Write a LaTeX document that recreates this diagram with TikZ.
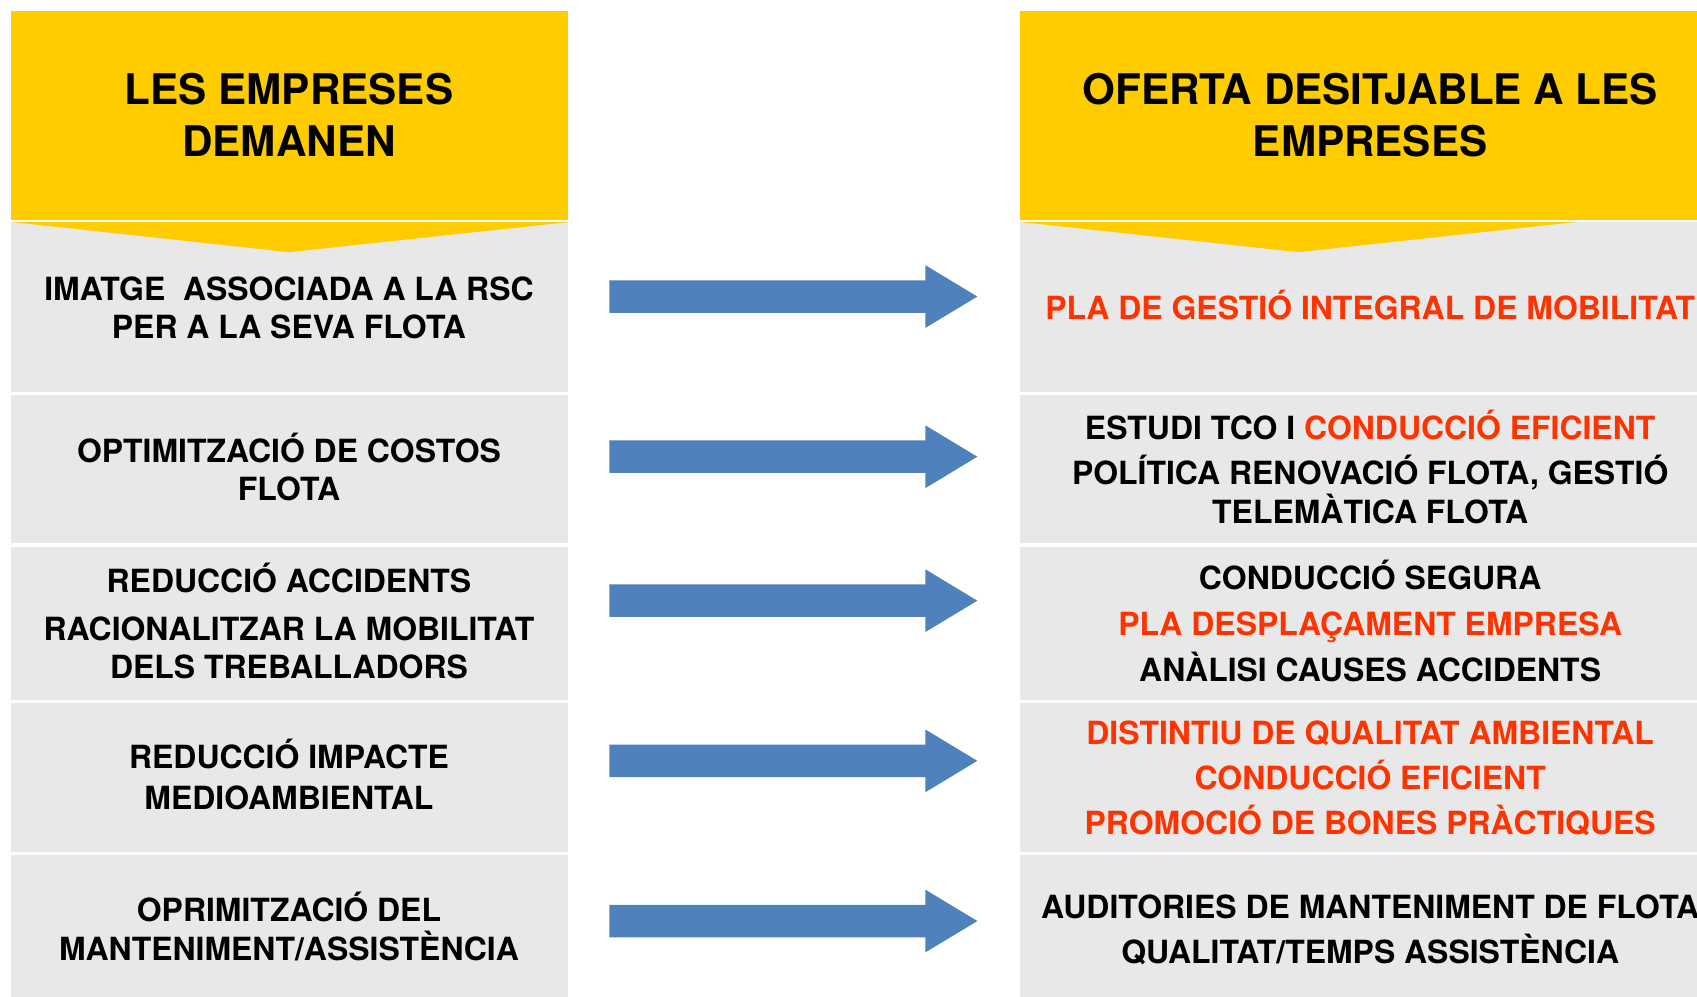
\documentclass[tikz,border=0pt]{standalone}
\usepackage{fontspec}
\setmainfont{TeX Gyre Heros}
\definecolor{hdr}{HTML}{FFCC00}
\definecolor{cellgray}{HTML}{E8E8E8}
\definecolor{redtx}{HTML}{FF3300}
\definecolor{arrowblue}{HTML}{4F81BD}
\begin{document}
\begin{tikzpicture}[x=0.02cm,y=-0.02cm,
  body/.style={font=\fontsize{16.8}{20}\selectfont\bfseries, anchor=base, inner sep=0pt},
  ttl/.style={font=\fontsize{22.2}{27}\selectfont\bfseries, anchor=base, inner sep=0pt},
  hot/.style={text=redtx},
  cellbox/.style={fill=cellgray},
  hdrbox/.style={fill=hdr},
  bigarrow/.style={fill=arrowblue}]
\useasboundingbox (0,0) rectangle (1568,921);
\fill[white] (0,0) rectangle (1568,921);

% gray cells
\foreach \ya/\yb in {205/362,365/502,505/647,650/787,790/921}{
  \path[cellbox] (10,\ya) rectangle (525,\yb);
  \path[cellbox] (942,\ya) rectangle (1568,\yb);
}
% headers
\path[hdrbox] (10,10) rectangle (525,203);
\path[hdrbox] (10,205) -- (527,205) -- (267,233) -- cycle;
\path[hdrbox] (942,10) rectangle (1568,203);
\path[hdrbox] (942,205) -- (1457,205) -- (1200,233) -- cycle;

% arrows
\foreach \c in {274,422,555,703,851}{
  \path[bigarrow] (563,\c-15) -- (855,\c-15) -- (855,\c-29) -- (903,\c)
     -- (855,\c+29) -- (855,\c+15) -- (563,\c+15) -- cycle;
}

% titles
\node[ttl] (tl1) at (267,97) {LES EMPRESES};
\node[ttl] (tl2) at (267,145) {DEMANEN};
\node[ttl] (tr1) at (1266,97) {OFERTA DESITJABLE A LES};
\node[ttl] (tr2) at (1266,145) {EMPRESES};

% left column
\node[body] (l1a) at (267,277.5) {IMATGE\ \ ASSOCIADA A LA RSC};
\node[body] (l1b) at (267,312.5) {PER A LA SEVA FLOTA};
\node[body] (l2a) at (267,427.5) {OPTIMITZACIÓ DE COSTOS};
\node[body] (l2b) at (267,462.5) {FLOTA};
\node[body] (l3a) at (267,547.5) {REDUCCIÓ ACCIDENTS};
\node[body] (l3b) at (267,591.5) {RACIONALITZAR LA MOBILITAT};
\node[body] (l3c) at (267,626.5) {DELS TREBALLADORS};
\node[body] (l4a) at (267,710.5) {REDUCCIÓ IMPACTE};
\node[body] (l4b) at (267,747.5) {MEDIOAMBIENTAL};
\node[body] (l5a) at (267,851.5) {OPRIMITZACIÓ DEL};
\node[body] (l5b) at (267,887.5) {MANTENIMENT/ASSISTÈNCIA};

% right column
\node[body,hot] (r1a) at (1266,295.5) {PLA DE GESTIÓ INTEGRAL DE MOBILITAT};
\node[body] (r2a) at (1266,406.5) {ESTUDI TCO I \textcolor{redtx}{CONDUCCIÓ EFICIENT}};
\node[body] (r2b) at (1266,447.5) {POLÍTICA RENOVACIÓ FLOTA, GESTIÓ};
\node[body] (r2c) at (1266,483.5) {TELEMÀTICA FLOTA};
\node[body] (r3a) at (1266,544.5) {CONDUCCIÓ SEGURA};
\node[body,hot] (r3b) at (1266,587.5) {PLA DESPLAÇAMENT EMPRESA};
\node[body] (r3c) at (1266,629.5) {ANÀLISI CAUSES ACCIDENTS};
\node[body,hot] (r4a) at (1266,687.5) {DISTINTIU DE QUALITAT AMBIENTAL};
\node[body,hot] (r4b) at (1266,729.5) {CONDUCCIÓ EFICIENT};
\node[body,hot] (r4c) at (1266,771.5) {PROMOCIÓ DE BONES PRÀCTIQUES};
\node[body] (r5a) at (1266,848.5) {AUDITORIES DE MANTENIMENT DE FLOTA};
\node[body] (r5b) at (1266,890.5) {QUALITAT/TEMPS ASSISTÈNCIA};
\end{tikzpicture}
\end{document}
